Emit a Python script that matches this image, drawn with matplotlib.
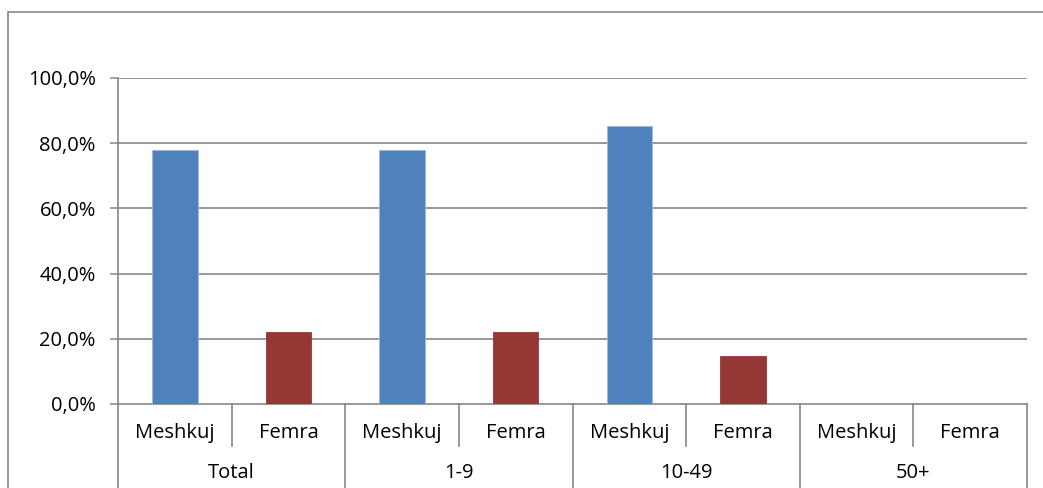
import matplotlib
matplotlib.use("Agg")
import matplotlib.pyplot as plt
from matplotlib.patches import Rectangle
from matplotlib.ticker import FuncFormatter
import matplotlib.transforms as mtransforms

groups = ["Total", "1-9", "10-49", "50+"]
genders = ["Meshkuj", "Femra"]
meshkuj = [77.8, 77.8, 85.2, 0.0]
femra = [22.2, 22.2, 14.8, 0.0]
yticks = [0, 20, 40, 60, 80, 100]

plt.rcParams['font.family'] = ['Open Sans', 'DejaVu Sans']
FS = 14.5
W, H = 1043, 488
fig = plt.figure(figsize=(W / 100, H / 100), dpi=100)
fig.patch.set_facecolor("white")

L, R, B, T = 118, 1027, 404, 78
ax = fig.add_axes([L / W, (H - B) / H, (R - L) / W, (B - T) / H])

grid_c = "#868686"
blue = "#4F81BD"
red = "#953735"

n = len(groups)
xm = [2 * i for i in range(n)]
xf = [2 * i + 1 for i in range(n)]
ax.bar(xm, meshkuj, width=0.4, color=blue, edgecolor="#9DB9DD", linewidth=0.6, zorder=3)
ax.bar(xf, femra, width=0.4, color=red, edgecolor=red, linewidth=0.6, zorder=3)

ax.set_xlim(-0.5, 2 * n - 0.5)
ax.set_ylim(0, 100)
ax.set_yticks(yticks)
ax.yaxis.set_major_formatter(FuncFormatter(lambda v, p: f"{v:.1f}%".replace(".", ",")))
ax.tick_params(axis="y", direction="out", length=6, width=1.1, color=grid_c,
               labelsize=FS, pad=10, labelcolor="black")
ax.set_xticks([])
for y in yticks[1:]:
    ax.axhline(y, color=grid_c, lw=1.2, zorder=1)
for s in ["top", "right"]:
    ax.spines[s].set_visible(False)
ax.spines["left"].set_color(grid_c)
ax.spines["left"].set_linewidth(1.2)
ax.spines["bottom"].set_color(grid_c)
ax.spines["bottom"].set_linewidth(1.2)

trans = mtransforms.blended_transform_factory(ax.transData, ax.transAxes)
axh = B - T
def yax(py):
    return (B - py) / axh

# category labels
for i in range(n):
    ax.text(xm[i], yax(433), genders[0], transform=trans, ha="center", va="center", fontsize=FS)
    ax.text(xf[i], yax(433), genders[1], transform=trans, ha="center", va="center", fontsize=FS)
    ax.text(xm[i] + 0.5, yax(473), groups[i], transform=trans, ha="center", va="center", fontsize=FS)
    # inner separator
    ax.plot([xm[i] + 0.5, xm[i] + 0.5], [0, yax(446)], transform=trans, color=grid_c, lw=1.2, clip_on=False)
# group separators and outer edges
for k in range(n + 1):
    x = 2 * k - 0.5
    ax.plot([x, x], [0, yax(500)], transform=trans, color=grid_c, lw=1.2, clip_on=False)

# outer chart border
fig.patches.append(Rectangle((8 / W, -0.2), 1.5, 1.2 - 12 / H, transform=fig.transFigure,
                             fill=False, edgecolor=grid_c, lw=1.2))

fig.savefig("out.png", dpi=100)
